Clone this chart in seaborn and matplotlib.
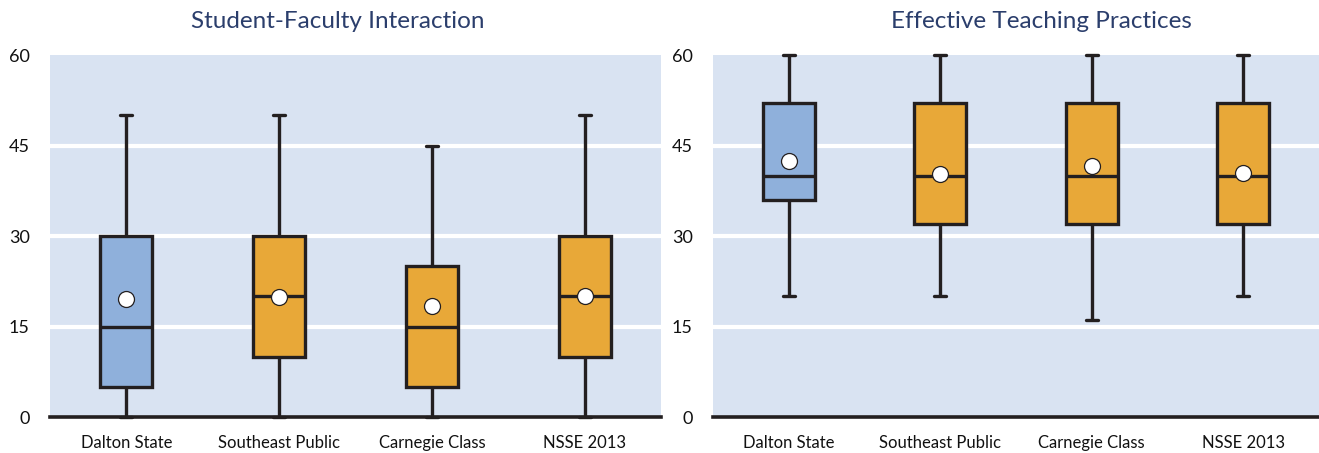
import numpy as np
import pandas as pd
import matplotlib
matplotlib.use("Agg")
import matplotlib.pyplot as plt
import seaborn as sns

categories = ["Dalton State", "Southeast Public", "Carnegie Class", "NSSE 2013"]

# five-number summaries: min, Q1, median, Q3, max
sfi_min = [0, 0, 0, 0]
sfi_q1 = [5, 10, 5, 10]
sfi_med = [15, 20, 15, 20]
sfi_q3 = [30, 30, 25, 30]
sfi_max = [50, 50, 45, 50]
sfi_mean = [19.6, 19.9, 18.4, 20.0]

etp_min = [20, 20, 16, 20]
etp_q1 = [36, 32, 32, 32]
etp_med = [40, 40, 40, 40]
etp_q3 = [52, 52, 52, 52]
etp_max = [60, 60, 60, 60]
etp_mean = [42.4, 40.3, 41.6, 40.5]

titles = ["Student-Faculty Interaction", "Effective Teaching Practices"]
yticks = [0, 15, 30, 45, 60]

BLUE = "#8FB0DB"
ORANGE = "#E8A838"
BG = "#D9E3F2"
INK = "#231F20"
TITLE_C = "#2B3E6C"

sns.set_theme(style="white")
plt.rcParams["font.family"] = ["Lato", "DejaVu Sans"]

palette = dict(zip(categories, [BLUE, ORANGE, ORANGE, ORANGE]))


def summary_frame(mins, q1s, meds, q3s, maxs):
    rows = []
    for c, a, b, m, d, e in zip(categories, mins, q1s, meds, q3s, maxs):
        for v in (a, b, m, d, e):
            rows.append({"group": c, "value": v})
    return pd.DataFrame(rows)


fig = plt.figure(figsize=(13.19, 4.53), dpi=100)
ax1 = fig.add_axes([50 / 1319, 36 / 453, 611 / 1319, 362 / 453])
ax2 = fig.add_axes([713 / 1319, 36 / 453, 606 / 1319, 362 / 453])

panels = [
    (ax1, summary_frame(sfi_min, sfi_q1, sfi_med, sfi_q3, sfi_max), sfi_mean),
    (ax2, summary_frame(etp_min, etp_q1, etp_med, etp_q3, etp_max), etp_mean),
]

for ax, df, means in panels:
    ax.set_facecolor(BG)
    sns.boxplot(
        data=df, x="group", y="value", hue="group", order=categories,
        hue_order=categories, palette=palette, legend=False, whis=(0, 100),
        width=0.34, linewidth=2.4, linecolor=INK, showfliers=False,
        capwidths=0.08, saturation=1, ax=ax,
    )
    sns.pointplot(
        x=categories, y=means, order=categories, color="white",
        linestyle="none", marker="o", markersize=11.5,
        markeredgecolor=INK, markeredgewidth=0.9, errorbar=None, ax=ax,
    )
    for ln in ax.lines:
        ln.set_clip_on(False)
        ln.set_zorder(4)
    for p in ax.patches:
        p.set_clip_on(False)
        p.set_zorder(3)
    for c in ax.collections:
        c.set_clip_on(False)
        c.set_zorder(5)
    for y in yticks[1:-1]:
        ax.axhline(y, color="white", linewidth=3, zorder=1)
    ax.set_ylim(0, 60)
    ax.set_xlim(-0.5, 3.5)
    ax.set_yticks(yticks)
    ax.set_xlabel("")
    ax.set_ylabel("")
    for s in ["top", "left", "right"]:
        ax.spines[s].set_visible(False)
    ax.spines["bottom"].set_color(INK)
    ax.spines["bottom"].set_linewidth(2.6)
    ax.spines["bottom"].set_zorder(6)
    ax.tick_params(axis="y", length=0, pad=14.5, labelsize=13, labelcolor="#111111")
    ax.tick_params(axis="x", length=0, pad=13, labelsize=12, labelcolor="#111111")
    ax.grid(False)

fig.text(338 / 1319, 1 - 22 / 453, titles[0], ha="center", va="center",
         fontsize=17.5, color=TITLE_C)
fig.text(1041 / 1319, 1 - 22 / 453, titles[1], ha="center", va="center",
         fontsize=17.5, color=TITLE_C)

fig.savefig("out.png", dpi=100)
